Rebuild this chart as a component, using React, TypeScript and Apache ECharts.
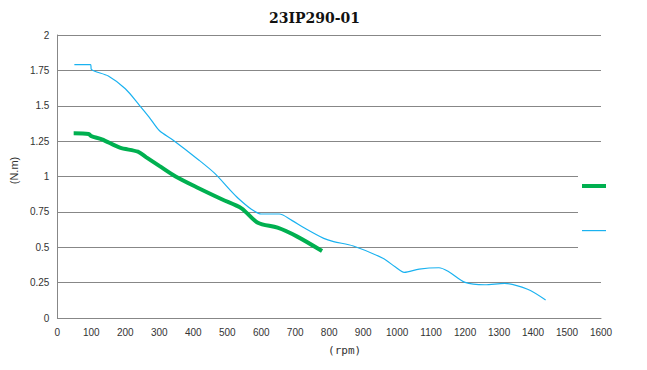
import React, { useEffect, useRef } from "react";
import * as echarts from "echarts";

const title = "23IP290-01";
const xName = "(rpm)";
const yName = "(N.m)";
const seriesNames = ["绿", "蓝"];

const greenData: [number, number][] = [
  [48, 1.305], [92, 1.3], [100, 1.285], [131, 1.263], [184, 1.204], [237, 1.175],
  [262, 1.135], [300, 1.075], [348, 1.0], [416, 0.917], [484, 0.839], [542, 0.775],
  [590, 0.673], [648, 0.638], [706, 0.575], [779, 0.473],
];

const blueData: [number, number][] = [
  [50, 1.79], [98, 1.79], [100, 1.757], [150, 1.71], [200, 1.62], [241, 1.505],
  [270, 1.42], [300, 1.325], [340, 1.258], [416, 1.117], [464, 1.02], [508, 0.905],
  [532, 0.846], [570, 0.77], [600, 0.735], [653, 0.735], [690, 0.69], [726, 0.638],
  [784, 0.563], [813, 0.54], [871, 0.509], [958, 0.422], [995, 0.36], [1021, 0.323],
  [1065, 0.346], [1123, 0.355], [1152, 0.327], [1200, 0.252], [1258, 0.235],
  [1316, 0.245], [1384, 0.203], [1437, 0.127],
];

const GREEN = "#00B050";
const BLUE = "#1AB2F0";
const GRID = "#878787";
const LABEL = "#333";

export default function App() {
  const ref = useRef<HTMLDivElement>(null);
  useEffect(() => {
    const chart = echarts.init(ref.current!, null, { renderer: "svg" });
    chart.setOption({
      animation: false,
      backgroundColor: "#fff",
      title: {
        text: title,
        left: 264,
        top: 6,
        textStyle: { fontFamily: "DejaVu Serif", fontWeight: "bold", fontSize: 14, color: "#111" },
      },
      grid: { left: 50, right: 46, top: 35, bottom: 52 },
      legend: {
        orient: "vertical",
        left: 578,
        top: 168,
        padding: [11, 6, 26, 2],
        itemWidth: 24,
        itemHeight: 14,
        itemGap: 32,
        backgroundColor: "#fff",
        formatter: () => "",
        itemStyle: { opacity: 0, color: "transparent", borderWidth: 0 },
        data: [
          { name: seriesNames[0], lineStyle: { width: 4, color: GREEN, opacity: 1 } },
          { name: seriesNames[1], lineStyle: { width: 1.2, color: BLUE, opacity: 1 } },
        ],
      },
      xAxis: {
        type: "value",
        min: 0,
        max: 1600,
        interval: 100,
        name: xName,
        nameLocation: "middle",
        nameGap: 27,
        nameTextStyle: { fontFamily: "DejaVu Sans Mono", fontSize: 11, color: LABEL, padding: [0, 0, 0, 31] },
        axisLine: { show: true, lineStyle: { color: GRID } },
        axisTick: { show: false },
        axisLabel: {
          fontFamily: "Liberation Sans",
          fontSize: 10,
          color: LABEL,
          margin: 9,
          formatter: (v: number) => String(v),
        },
        splitLine: { show: false },
      },
      yAxis: {
        type: "value",
        min: 0,
        max: 2,
        interval: 0.25,
        name: yName,
        nameLocation: "middle",
        nameGap: 33,
        nameTextStyle: { fontFamily: "Liberation Sans", fontSize: 11, color: LABEL, padding: [0, 0, 0, 12] },
        axisLine: { show: true, lineStyle: { color: GRID } },
        axisTick: { show: false },
        axisLabel: { fontFamily: "Liberation Sans", fontSize: 10, color: LABEL, margin: 8 },
        splitLine: { show: true, lineStyle: { color: GRID, width: 1 } },
      },
      series: [
        {
          name: seriesNames[0],
          type: "line",
          data: greenData,
          smooth: 0.3,
          symbol: "none",
          lineStyle: { color: GREEN, width: 4 },
          itemStyle: { color: GREEN },
        },
        {
          name: seriesNames[1],
          type: "line",
          data: blueData,
          smooth: 0.3,
          symbol: "none",
          lineStyle: { color: BLUE, width: 1.2 },
          itemStyle: { color: BLUE },
        },
      ],
    });
    return () => chart.dispose();
  }, []);
  return <div ref={ref} style={{ width: 647, height: 370, margin: -8 }} />;
}
